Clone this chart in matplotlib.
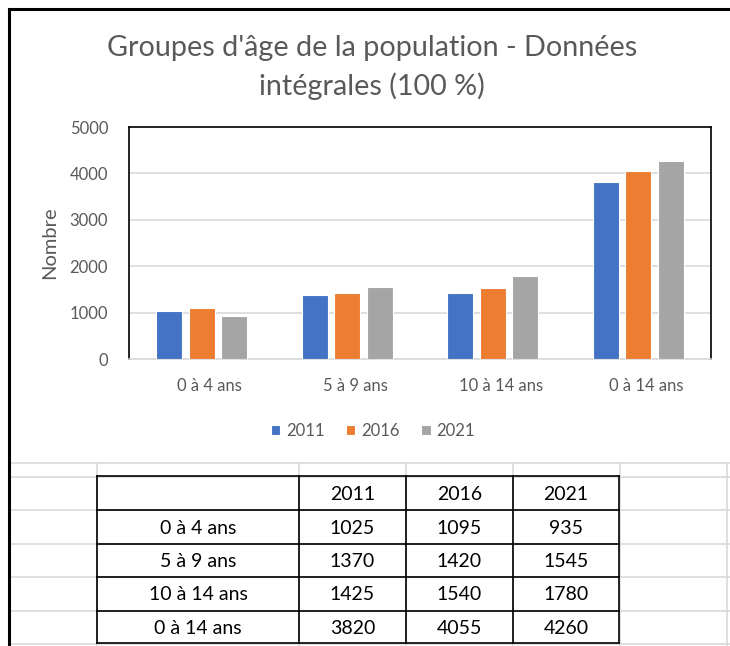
import numpy as np
import matplotlib
matplotlib.use("Agg")
import matplotlib.pyplot as plt
import matplotlib.transforms as mtransforms
from matplotlib.lines import Line2D

plt.rcParams['font.family'] = ['Lato', 'DejaVu Sans']

# données
categories = ["0 à 4 ans", "5 à 9 ans", "10 à 14 ans", "0 à 14 ans"]
years = ["2011", "2016", "2021"]
v2011 = [1025, 1370, 1425, 3820]
v2016 = [1095, 1420, 1540, 4055]
v2021 = [935, 1545, 1780, 4260]
series = [v2011, v2016, v2021]
colors = ["#4472C4", "#ED7D31", "#A5A5A5"]

W, H = 730, 646
fig = plt.figure(figsize=(W / 100, H / 100), dpi=100)

# fond : grille du tableur + cadre + tableau (coordonnées en pixels)
bg = fig.add_axes([0, 0, 1, 1], zorder=0)
bg.set_xlim(0, W)
bg.set_ylim(H, 0)
bg.axis('off')

grid_c = "#D9D9D9"
for y in [463, 477, 510, 544, 577, 611, 644]:
    bg.add_line(Line2D([9, W], [y, y], color=grid_c, lw=1.2))
for x in [97, 299, 406, 513, 620, 727]:
    bg.add_line(Line2D([x, x], [463, H], color=grid_c, lw=1.2))

# cadre noir du graphique
bg.add_line(Line2D([9, 9], [9, H], color="black", lw=2.2))
bg.add_line(Line2D([9, W], [9, 9], color="black", lw=2.2))

# tableau
row_y = [476, 510, 544, 577, 611, 643]
col_x = [97, 299, 406, 513, 619]
for y in row_y:
    bg.add_line(Line2D([col_x[0], col_x[-1]], [y, y], color="black", lw=1.2))
for x in col_x:
    bg.add_line(Line2D([x, x], [row_y[0], row_y[-1]], color="black", lw=1.2))

rows = [[""] + years]
for i, c in enumerate(categories):
    rows.append([c] + [str(s[i]) for s in series])
for r, row in enumerate(rows):
    yc = (row_y[r] + row_y[r + 1]) / 2
    for c, txt in enumerate(row):
        xc = (col_x[c] + col_x[c + 1]) / 2
        bg.text(xc, yc + 1, txt, ha='center', va='center', fontsize=14, color="black")

# titre
fig.text(372 / W, 1 - 35 / H, "Groupes d'âge de la population - Données\nintégrales (100 %)",
         ha='center', va='top', fontsize=20.7, color="#595959", linespacing=1.5)

# graphique
ax = fig.add_axes([129 / W, 1 - 359 / H, (711 - 129) / W, (359 - 127) / H], zorder=2)
x = np.arange(len(categories))
bw = 0.178
pitch = 0.223
for k, (vals, col, yr) in enumerate(zip(series, colors, years)):
    ax.bar(x + (k - 1) * pitch, vals, width=bw, color=col, edgecolor="white",
           linewidth=0.8, label=yr, zorder=3)

ax.set_xlim(-0.5, len(categories) - 0.5)
ax.set_ylim(0, 5000)
ax.set_yticks(np.arange(0, 5001, 1000))
ax.set_xticks(x)
ax.set_xticklabels(categories)
ax.yaxis.grid(True, color=grid_c, lw=1.2, zorder=0)
ax.set_axisbelow(True)
ax.tick_params(length=0, labelsize=12, colors="#595959")
ax.tick_params(axis='x', pad=14)
ax.tick_params(axis='y', pad=15)
offset = mtransforms.ScaledTranslation(0.08, 0, fig.dpi_scale_trans)
for lbl in ax.get_xticklabels():
    lbl.set_transform(lbl.get_transform() + offset)
for side in ['top', 'left', 'right']:
    ax.spines[side].set_color("black")
    ax.spines[side].set_linewidth(1.2)
ax.spines['bottom'].set_color(grid_c)
ax.spines['bottom'].set_linewidth(1.2)
ax.set_ylabel("Nombre", fontsize=14.5, color="#595959", labelpad=8)

fig.legend(loc='center', bbox_to_anchor=(373 / W, 1 - 431 / H), ncol=3, frameon=False,
           fontsize=12, handlelength=0.55, handleheight=0.55, handletextpad=0.35,
           columnspacing=1.3, labelcolor="#595959")

fig.savefig("out.png", dpi=100)
